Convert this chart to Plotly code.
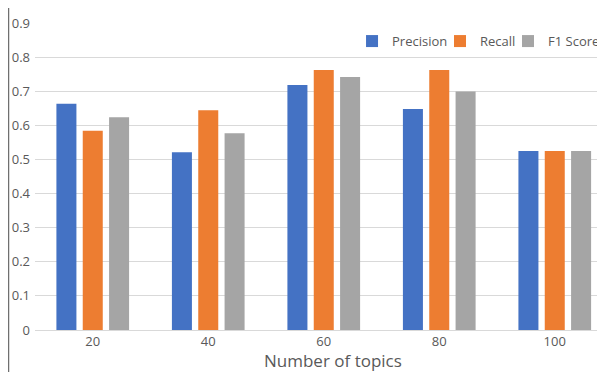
import plotly.graph_objects as go

categories = ["20", "40", "60", "80", "100"]
precision = [0.663, 0.521, 0.718, 0.648, 0.525]
recall = [0.584, 0.644, 0.762, 0.762, 0.525]
f1_score = [0.624, 0.577, 0.742, 0.699, 0.525]
y_ticks = [0, 0.1, 0.2, 0.3, 0.4, 0.5, 0.6, 0.7, 0.8, 0.9]
y_tick_labels = ["0", "0.1", "0.2", "0.3", "0.4", "0.5", "0.6", "0.7", "0.8", "0.9"]

series = [
    ("Precision", precision, "#4472C4", "legend", 0.5562, "left"),
    ("Recall", recall, "#ED7D31", "legend2", 0.7105, "left"),
    ("F1 Score", f1_score, "#A5A5A5", "legend3", 1.0, "right"),
]

fig = go.Figure()
for name, vals, color, leg, _, _ in series:
    fig.add_trace(go.Bar(x=categories, y=vals, name=name, marker_color=color,
                         marker_line_width=0, legend=leg))

font_family = "Open Sans, Noto Sans, sans-serif"
legend_layout = {}
for name, vals, color, leg, lx, anchor in series:
    legend_layout[leg] = dict(orientation="h", x=lx, xanchor=anchor, y=0.941, yanchor="middle",
                              font=dict(size=13, color="#595959"), bgcolor="rgba(0,0,0,0)",
                              itemwidth=30)

# page body has an 8px default margin, so the figure is 8px smaller than the window
fig.update_layout(
    width=597, height=364,
    margin=dict(l=27, r=0, t=15, b=42),
    paper_bgcolor="white", plot_bgcolor="white",
    barmode="group", bargap=0.316, bargroupgap=0.24,
    font=dict(family=font_family, color="#595959", size=12),
    showlegend=True,
    xaxis=dict(range=[-0.5, 4.435], showgrid=False, showline=False, ticks="",
               tickfont=dict(size=13, color="#595959"), ticklabelstandoff=2,
               zeroline=False),
    yaxis=dict(range=[0, 0.9], tickvals=y_ticks, ticktext=y_tick_labels,
               showgrid=True, gridcolor="#D9D9D9", gridwidth=1,
               zeroline=True, zerolinecolor="#D9D9D9", zerolinewidth=1,
               showline=False, ticks="", tickfont=dict(size=13, color="#595959"),
               ticklabelstandoff=4),
    **legend_layout,
)

fig.add_annotation(text="Number of topics", xref="paper", yref="paper",
                   x=(333 - 35) / 570, y=-30.5 / 307, xanchor="center", yanchor="middle",
                   showarrow=False, font=dict(size=17, color="#595959"))

fig.add_shape(type="line", xref="paper", yref="paper",
              x0=-26.5/570, x1=-26.5/570, y0=-42/307, y1=1 + 15/307,
              line=dict(color="#6F6F6F", width=1.5))

fig.write_html("out.html")
